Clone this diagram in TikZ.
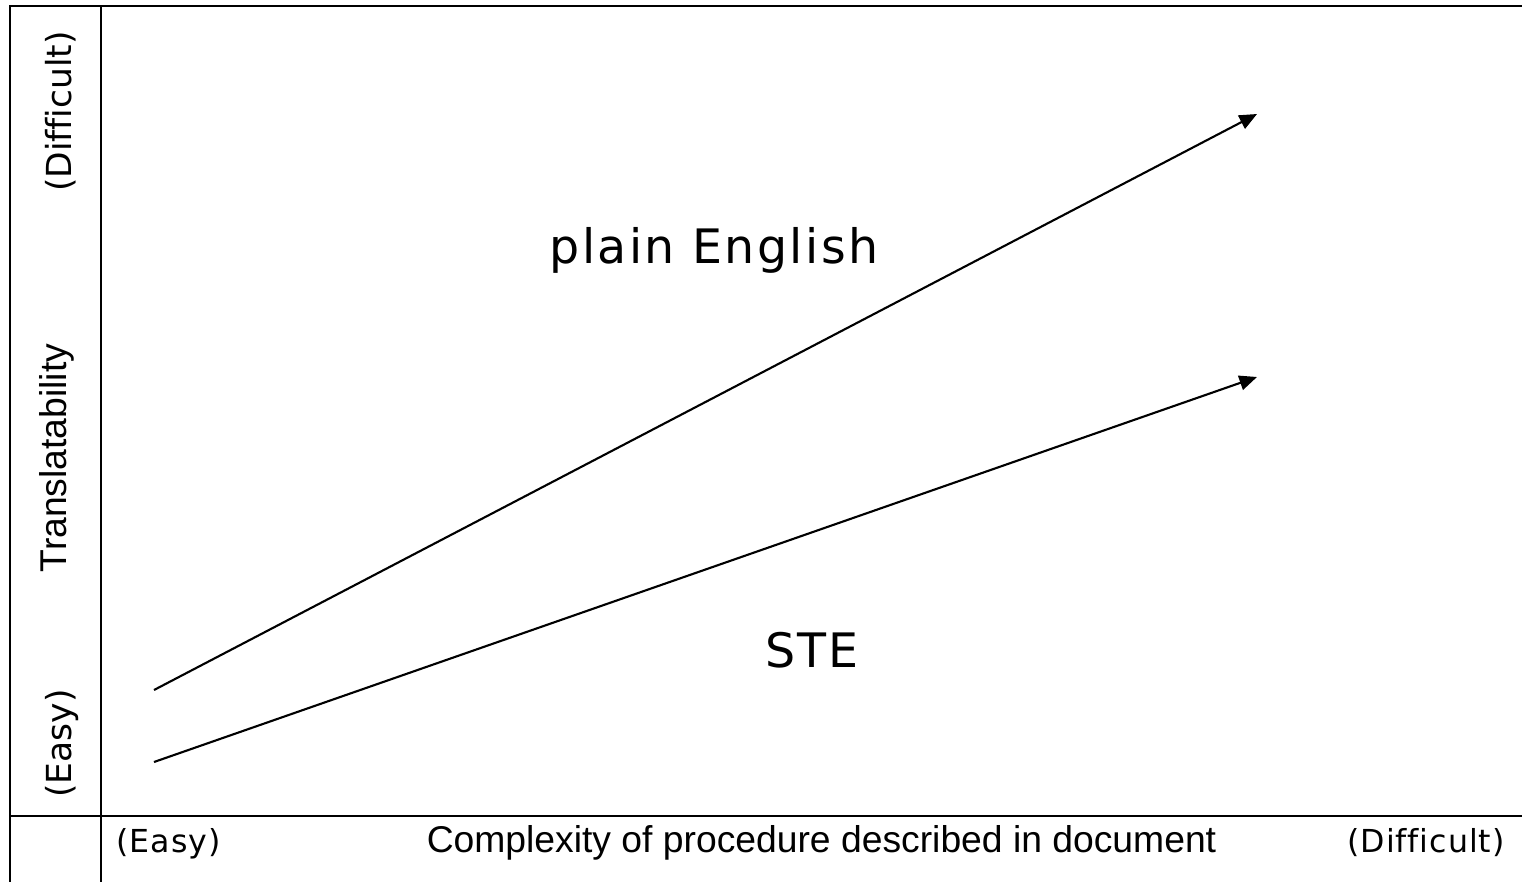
\documentclass[tikz,border=0pt]{standalone}
\usepackage{fontspec}
\setmainfont{Liberation Sans}
\newfontfamily\verdfont[Ligatures=NoCommon]{DejaVu Sans}
\newfontfamily\verdspfont[Ligatures=NoCommon,LetterSpace=5]{DejaVu Sans}
\newfontfamily\verdsmfont[Ligatures=NoCommon,LetterSpace=3]{DejaVu Sans}
\usetikzlibrary{arrows.meta}
\tikzset{
  frame/.style={line width=0.75pt},
  trend/.style={line width=0.6pt,-{Triangle[length=5pt,width=4.2pt]}},
  axistext/.style={font=\fontsize{10.6}{12}\selectfont,anchor=base,inner sep=0pt},
  endtext/.style={font=\verdsmfont\fontsize{9}{11}\selectfont,anchor=base,inner sep=0pt},
  sidetext/.style={font=\verdfont\fontsize{9.8}{11}\selectfont,anchor=base,inner sep=0pt,rotate=90},
  bigtext/.style={font=\verdspfont\fontsize{13.5}{16}\selectfont,anchor=base,inner sep=0pt}
}
\begin{document}
\begin{tikzpicture}[x=0.01cm,y=-0.01cm]
	\useasboundingbox (0,0) rectangle (1522,882);
	\coordinate (TL) at (10,6);
	\coordinate (TM) at (101,6);
	\coordinate (TR) at (1522,6);
	\coordinate (ML) at (10,816);
	\coordinate (MR) at (1522,816);
	\coordinate (BL) at (10,882);
	\coordinate (BM) at (101,882);

	% 表格线
	\draw[frame] (TR) -- (TL) -- (BL);
	\draw[frame] (TM) -- (BM);
	\draw[frame] (ML) -- (MR);

	% 两条趋势线
	\coordinate (P1) at (154,690);
	\coordinate (P2) at (1257,114);
	\coordinate (S1) at (154,762);
	\coordinate (S2) at (1257,377);
	\draw[trend] (P1) -- (P2);
	\draw[trend] (S1) -- (S2);

	% 标注
	\node[bigtext] (plain) at (714,263) {plain English};
	\node[bigtext] (ste) at (812,667) {STE};
	\node[axistext,rotate=90] (ylab) at (66,458) {Translatability};
	\node[sidetext] (yhard) at (71,111.5) {(Difficult)};
	\node[sidetext] (yeasy) at (71.5,743.5) {(Easy)};
	\node[axistext] (xlab) at (821.5,852) {Complexity of procedure described in document};
	\node[endtext] (xeasy) at (168.5,852) {(Easy)};
	\node[endtext] (xhard) at (1426,852) {(Difficult)};

\end{tikzpicture}
\end{document}
